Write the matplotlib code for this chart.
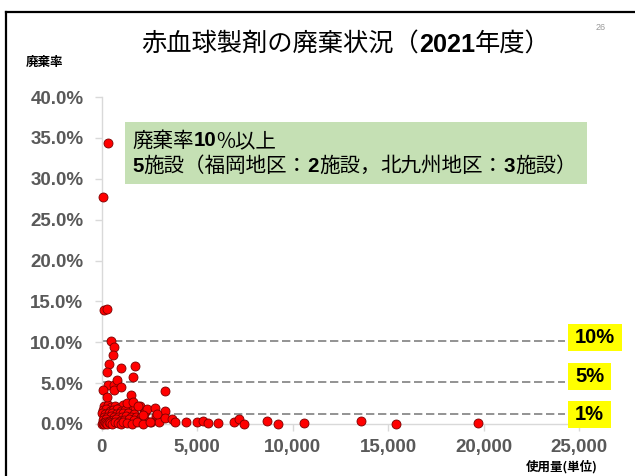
import matplotlib
matplotlib.use("Agg")
import matplotlib.pyplot as plt
from matplotlib.patches import Rectangle
from matplotlib.lines import Line2D
from matplotlib.ticker import FuncFormatter, MultipleLocator

# --- データ ---
# 使用量(単位) と 廃棄率(%)：目立つ施設
usage_main = [356, 63, 131, 304, 482, 670, 586, 408, 1005, 1754, 304, 1633,
              356, 655, 828, 655, 1005, 95, 3325, 272, 1529, 1320, 1665,
              1927, 2367, 2801, 3325, 2157, 2890, 3325, 3674, 3848, 4408,
              4984, 5298, 5560, 6117, 6954, 7216, 7461, 8650, 9257, 10619,
              13570, 15404, 19730]
rate_main = [34.4, 27.8, 14.0, 14.1, 10.2, 9.4, 8.5, 7.3, 6.9, 7.1, 6.3, 5.8,
             4.8, 4.8, 5.4, 4.1, 4.5, 4.2, 4.0, 3.3, 3.5, 2.6, 2.7,
             2.2, 1.8, 1.9, 1.6, 1.1, 1.2, 0.7, 0.6, 0.3, 0.3,
             0.2, 0.4, 0.1, 0.1, 0.3, 0.6, 0.0, 0.4, 0.0, 0.1,
             0.4, 0.0, 0.1]

# 原点付近に密集している施設
usage_cluster = [150, 350, 500, 700, 900, 1100, 1500, 1750, 2000,
                 100, 250, 420, 600, 800, 1000, 1250, 2300,
                 50, 200, 380, 550, 750, 950, 1150, 1400, 1700, 2250,
                 120, 300, 480, 650, 850, 1050, 1300, 1550, 1800, 2050, 2850,
                 80, 230, 400, 600, 780, 980, 1200, 1450, 1700, 1950, 2300, 2600, 3030,
                 20, 60, 110, 160, 220, 300, 380, 470, 560, 700, 850, 1000,
                 1150, 1350, 1600, 1850, 2190, 2540]
rate_cluster = [2.2, 2.3, 2.1, 2.2, 2.0, 2.3, 2.2, 2.1, 2.2,
                1.7, 1.8, 1.6, 1.7, 1.8, 1.6, 1.7, 1.5,
                1.3, 1.2, 1.4, 1.3, 1.2, 1.3, 1.4, 1.3, 1.2, 1.3,
                0.9, 0.8, 1.0, 0.9, 0.8, 0.9, 1.0, 0.9, 0.8, 0.9, 1.0,
                0.5, 0.6, 0.4, 0.5, 0.6, 0.4, 0.5, 0.6, 0.5, 0.4, 0.5, 0.2, 0.3,
                0.0, 0.1, 0.0, 0.2, 0.1, 0.0, 0.2, 0.1, 0.0, 0.2, 0.1, 0.0,
                0.2, 0.1, 0.0, 0.2, 0.0, 0.2]

ref_levels = [10.2, 5.1, 1.2]
ref_labels = ["10%", "5%", "1%"]

title_parts = [("赤血球製剤の廃棄状況（", False), ("2021", True), ("年度）", False)]
note_line1 = [("廃棄率", False), ("10", True), ("%以上", False)]
note_line2 = [("5", True), ("施設（福岡地区：", False), ("2", True), ("施設，", False),
              ("北九州地区：", False), ("3", True), ("施設）", False)]

JP = "Noto Sans CJK JP"
LAT = "Liberation Sans"
W, H = 635, 476

fig = plt.figure(figsize=(W / 100, H / 100), dpi=100)
fig.patch.set_facecolor("white")


def fx(px):
    return px / W


def fy(py):
    return 1 - py / H


def rich(x_px, y_px, parts, size, ha="left"):
    # 日本語は通常、数字は太字で並べて描く
    r = fig.canvas.get_renderer()
    texts = []
    for s, bold in parts:
        fam = [LAT, JP] if bold else [JP, LAT]
        t = fig.text(0, fy(y_px), s, fontsize=size, va="center", ha="left",
                     fontweight="bold" if bold else "normal", family=fam,
                     color="black", zorder=7)
        texts.append(t)
    widths = [t.get_window_extent(r).width for t in texts]
    cur = x_px - (sum(widths) / 2 if ha == "center" else 0)
    for t, w in zip(texts, widths):
        t.set_x(fx(cur))
        cur += w


# スライドの枠線
fig.add_artist(Line2D([fx(6), fx(W)], [fy(12), fy(12)], color="black", lw=1.6))
fig.add_artist(Line2D([fx(6), fx(6)], [fy(12), fy(H)], color="black", lw=1.6))

ax = fig.add_axes([fx(101.5), fy(424), (579 - 101.5) / W, (424 - 97) / H])
ax.set_xlim(0, 25000)
ax.set_ylim(0, 40)
for side in ["top", "right"]:
    ax.spines[side].set_visible(False)
for side in ["left", "bottom"]:
    ax.spines[side].set_color("#D9D9D9")
    ax.spines[side].set_linewidth(1.0)

ax.xaxis.set_major_locator(MultipleLocator(5000))
ax.yaxis.set_major_locator(MultipleLocator(5))
ax.xaxis.set_major_formatter(FuncFormatter(lambda v, p: f"{v:,.0f}"))
ax.yaxis.set_major_formatter(FuncFormatter(lambda v, p: f"{v:.1f}%"))
ax.tick_params(axis="both", colors="#D9D9D9", length=5, width=1.0,
               labelcolor="#595959", labelsize=13.5)
ax.tick_params(axis="y", pad=8)
ax.tick_params(axis="x", pad=6)
for lab in ax.get_xticklabels() + ax.get_yticklabels():
    lab.set_fontweight("bold")
    lab.set_family(LAT)

ax.scatter(usage_cluster, rate_cluster, s=42, c="#FF0000", edgecolors="#7A0000",
           linewidths=0.6, zorder=3, clip_on=False)
ax.scatter(usage_main, rate_main, s=42, c="#FF0000", edgecolors="#7A0000",
           linewidths=0.6, zorder=3, clip_on=False)

# 基準線とラベル
xend = (565 - 101.5) / 477.5
trans = ax.get_yaxis_transform()
box_mid = [10.6, 5.8, 1.2]
box_w = [54, 43, 43]
for lvl, lab, mid, bw in zip(ref_levels, ref_labels, box_mid, box_w):
    ax.axhline(lvl, xmin=0, xmax=xend, color="#808080", lw=1.2,
               ls=(0, (5, 2.2)), zorder=2)
    x0 = (568 - 101.5) / 477.5
    ax.add_patch(Rectangle((x0, mid - 1.65), bw / 477.5, 3.3, transform=trans,
                           facecolor="#FFFF00", edgecolor="none", clip_on=False, zorder=4))
    ax.text(x0 + 7 / 477.5, mid, lab, transform=trans, ha="left", va="center",
            fontsize=14.5, fontweight="bold", family=LAT, color="black",
            zorder=5, clip_on=False)

# 緑の注記ボックス
fig.add_artist(Rectangle((fx(125), fy(184)), 462 / W, 62 / H,
                         transform=fig.transFigure, facecolor="#C5E0B4",
                         edgecolor="none", zorder=5))
rich(132, 141, note_line1, 14.8)
rich(132, 166, note_line2, 14.8)

# タイトルなど
rich(346, 45, title_parts, 18.2, ha="center")
fig.text(fx(45), fy(62), "廃棄率", fontsize=9, fontweight="bold", family=[JP],
         ha="center", va="center")
fig.text(fx(562), fy(467), "使用量(単位)", fontsize=9, fontweight="bold", family=[JP],
         ha="center", va="center")
fig.text(fx(601), fy(27), "26", fontsize=6.5, color="#999999", family=[LAT],
         ha="center", va="center")

fig.savefig("out.png", dpi=100)
